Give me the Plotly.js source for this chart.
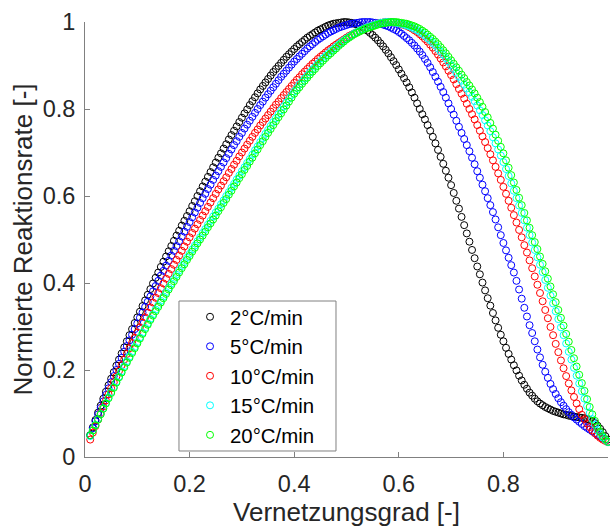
<!DOCTYPE html>
<html><head><meta charset="utf-8">
<script src="https://cdn.plot.ly/plotly-3.0.1.min.js"></script>
<style>html,body{margin:0;padding:0;background:#fff}#chart{width:610px;height:529px}</style>
</head><body><div id="chart"></div>
<script>
// Vernetzungsgrad (sampling of the conversion axis, shared by all series)
const conversion = [
0.010,0.015,0.020,0.025,0.030,0.035,0.040,0.045,0.050,0.055,
0.060,0.065,0.070,0.075,0.080,0.085,0.090,0.095,0.100,0.105,
0.110,0.115,0.120,0.125,0.130,0.135,0.140,0.145,0.150,0.155,
0.160,0.165,0.170,0.175,0.180,0.185,0.190,0.195,0.200,0.205,
0.210,0.215,0.220,0.225,0.230,0.235,0.240,0.245,0.250,0.255,
0.260,0.265,0.270,0.275,0.280,0.285,0.290,0.295,0.300,0.305,
0.310,0.315,0.320,0.325,0.330,0.335,0.340,0.345,0.350,0.355,
0.360,0.365,0.370,0.375,0.380,0.385,0.390,0.395,0.400,0.405,
0.410,0.415,0.420,0.425,0.430,0.435,0.440,0.445,0.450,0.455,
0.460,0.465,0.470,0.475,0.480,0.485,0.490,0.495,0.500,0.505,
0.510,0.515,0.520,0.525,0.530,0.535,0.540,0.545,0.550,0.555,
0.560,0.565,0.570,0.575,0.580,0.585,0.590,0.595,0.600,0.605,
0.610,0.615,0.620,0.625,0.630,0.635,0.640,0.645,0.650,0.655,
0.660,0.665,0.670,0.675,0.680,0.685,0.690,0.695,0.700,0.705,
0.710,0.715,0.720,0.725,0.730,0.735,0.740,0.745,0.750,0.755,
0.760,0.765,0.770,0.775,0.780,0.785,0.790,0.795,0.800,0.805,
0.810,0.815,0.820,0.825,0.830,0.835,0.840,0.845,0.850,0.855,
0.860,0.865,0.870,0.875,0.880,0.885,0.890,0.895,0.900,0.905,
0.910,0.915,0.920,0.925,0.930,0.935,0.940,0.945,0.950,0.955,
0.960,0.965,0.970,0.975,0.980,0.985,0.990,0.995,1.000];

// Normierte Reaktionsrate, 2 °C/min
const rate2 = [
0.05,0.068,0.085,0.102,0.118,0.134,0.15,0.165,0.18,0.195,
0.21,0.224,0.238,0.252,0.266,0.28,0.294,0.308,0.321,0.334,
0.347,0.36,0.373,0.386,0.399,0.412,0.424,0.437,0.449,0.461,
0.473,0.485,0.497,0.509,0.52,0.532,0.543,0.554,0.565,0.577,
0.588,0.6,0.611,0.622,0.633,0.644,0.655,0.666,0.677,0.688,
0.698,0.709,0.719,0.73,0.74,0.75,0.76,0.77,0.78,0.79,
0.799,0.809,0.818,0.827,0.836,0.845,0.853,0.861,0.869,0.877,
0.885,0.892,0.899,0.906,0.913,0.92,0.926,0.932,0.938,0.944,
0.949,0.954,0.959,0.964,0.968,0.972,0.976,0.98,0.983,0.986,
0.989,0.992,0.994,0.996,0.997,0.998,0.999,1.0,1.0,0.999,
0.998,0.996,0.994,0.991,0.988,0.984,0.98,0.975,0.97,0.964,
0.958,0.951,0.944,0.936,0.928,0.919,0.91,0.901,0.891,0.881,
0.871,0.861,0.85,0.838,0.826,0.813,0.80,0.788,0.776,0.763,
0.75,0.736,0.721,0.706,0.69,0.674,0.658,0.642,0.625,0.607,
0.589,0.571,0.552,0.533,0.514,0.495,0.476,0.457,0.438,0.42,
0.401,0.383,0.365,0.348,0.331,0.314,0.297,0.281,0.266,0.251,
0.237,0.224,0.211,0.199,0.187,0.176,0.166,0.157,0.148,0.141,
0.134,0.128,0.123,0.119,0.115,0.112,0.109,0.106,0.104,0.102,
0.10,0.098,0.097,0.095,0.094,0.093,0.092,0.091,0.09,0.089,
0.087,0.085,0.082,0.078,0.072,0.065,0.057,0.048,0.04];

// 5 °C/min
const rate5 = [
0.05,0.066,0.082,0.098,0.113,0.128,0.143,0.158,0.172,0.186,
0.2,0.214,0.228,0.242,0.255,0.268,0.281,0.294,0.307,0.32,
0.332,0.345,0.357,0.369,0.381,0.393,0.405,0.417,0.428,0.44,
0.451,0.463,0.474,0.485,0.496,0.507,0.518,0.529,0.54,0.551,
0.562,0.573,0.584,0.595,0.605,0.616,0.626,0.637,0.647,0.657,
0.667,0.677,0.687,0.697,0.707,0.717,0.726,0.736,0.745,0.755,
0.764,0.773,0.782,0.791,0.80,0.809,0.817,0.826,0.834,0.842,
0.85,0.858,0.866,0.874,0.881,0.888,0.895,0.902,0.909,0.915,
0.921,0.927,0.933,0.939,0.944,0.949,0.954,0.959,0.963,0.967,
0.971,0.975,0.978,0.981,0.984,0.987,0.989,0.991,0.993,0.995,
0.996,0.997,0.998,0.999,1.0,1.0,1.0,1.0,0.999,0.998,
0.997,0.996,0.994,0.992,0.99,0.987,0.984,0.981,0.977,0.973,
0.968,0.963,0.958,0.952,0.946,0.939,0.932,0.924,0.915,0.906,
0.896,0.885,0.874,0.863,0.851,0.839,0.826,0.813,0.80,0.787,
0.773,0.759,0.745,0.731,0.717,0.703,0.688,0.673,0.657,0.642,
0.626,0.611,0.595,0.579,0.563,0.546,0.528,0.51,0.492,0.475,
0.458,0.441,0.424,0.405,0.385,0.364,0.343,0.323,0.303,0.285,
0.266,0.247,0.229,0.212,0.196,0.182,0.168,0.156,0.145,0.135,
0.126,0.118,0.11,0.103,0.097,0.091,0.086,0.081,0.076,0.071,
0.067,0.063,0.059,0.055,0.051,0.047,0.043,0.039,0.035];

// 10 °C/min
const rate10 = [
0.04,0.056,0.071,0.086,0.101,0.116,0.13,0.144,0.158,0.172,
0.185,0.198,0.211,0.224,0.237,0.25,0.262,0.274,0.286,0.298,
0.309,0.321,0.332,0.344,0.355,0.366,0.377,0.388,0.399,0.41,
0.421,0.432,0.442,0.453,0.463,0.474,0.484,0.495,0.505,0.515,
0.525,0.535,0.545,0.555,0.565,0.575,0.585,0.595,0.605,0.615,
0.624,0.634,0.643,0.653,0.662,0.672,0.681,0.691,0.70,0.709,
0.718,0.727,0.736,0.745,0.753,0.762,0.77,0.778,0.786,0.794,
0.802,0.81,0.817,0.825,0.832,0.839,0.846,0.853,0.86,0.867,
0.873,0.88,0.886,0.892,0.898,0.904,0.909,0.915,0.92,0.925,
0.93,0.935,0.939,0.944,0.948,0.952,0.956,0.96,0.964,0.968,
0.971,0.974,0.977,0.98,0.983,0.986,0.988,0.99,0.992,0.994,
0.996,0.998,0.999,1.0,1.0,1.0,0.999,0.998,0.997,0.995,
0.993,0.991,0.988,0.985,0.981,0.977,0.972,0.967,0.961,0.955,
0.948,0.941,0.933,0.925,0.916,0.907,0.898,0.888,0.878,0.868,
0.857,0.846,0.835,0.824,0.812,0.80,0.788,0.776,0.763,0.75,
0.737,0.724,0.71,0.696,0.682,0.667,0.652,0.637,0.621,0.605,
0.589,0.573,0.556,0.539,0.522,0.505,0.487,0.47,0.452,0.434,
0.415,0.396,0.377,0.358,0.338,0.319,0.299,0.28,0.26,0.241,
0.222,0.204,0.186,0.169,0.153,0.138,0.123,0.11,0.097,0.087,
0.077,0.069,0.061,0.055,0.049,0.044,0.04,0.037,0.034];

// 15 °C/min
const rate15 = [
0.048,0.061,0.074,0.087,0.099,0.112,0.124,0.137,0.149,0.161,
0.173,0.185,0.197,0.209,0.22,0.231,0.242,0.253,0.264,0.275,
0.286,0.297,0.307,0.318,0.328,0.339,0.349,0.359,0.369,0.379,
0.389,0.399,0.409,0.419,0.429,0.439,0.448,0.458,0.467,0.477,
0.486,0.496,0.505,0.515,0.524,0.534,0.543,0.553,0.562,0.571,
0.581,0.59,0.60,0.609,0.619,0.628,0.638,0.647,0.657,0.666,
0.676,0.685,0.695,0.705,0.714,0.724,0.733,0.743,0.752,0.761,
0.77,0.779,0.788,0.797,0.806,0.815,0.824,0.832,0.84,0.848,
0.856,0.863,0.87,0.877,0.884,0.891,0.897,0.904,0.91,0.916,
0.922,0.927,0.933,0.938,0.943,0.948,0.953,0.958,0.962,0.966,
0.97,0.974,0.977,0.98,0.983,0.986,0.988,0.99,0.992,0.994,
0.996,0.998,0.999,1.0,1.0,1.0,0.999,0.998,0.997,0.996,
0.994,0.992,0.99,0.987,0.984,0.981,0.977,0.973,0.968,0.963,
0.958,0.952,0.946,0.939,0.932,0.925,0.917,0.909,0.90,0.892,
0.883,0.874,0.865,0.856,0.847,0.838,0.828,0.818,0.808,0.797,
0.786,0.774,0.762,0.749,0.735,0.721,0.707,0.693,0.678,0.662,
0.646,0.629,0.612,0.595,0.578,0.561,0.544,0.527,0.51,0.493,
0.476,0.459,0.442,0.425,0.407,0.389,0.371,0.353,0.335,0.317,
0.298,0.28,0.261,0.242,0.224,0.205,0.187,0.169,0.151,0.134,
0.117,0.101,0.087,0.074,0.062,0.053,0.045,0.039,0.034];

// 20 °C/min
const rate20 = [
0.05,0.061,0.073,0.086,0.098,0.111,0.123,0.135,0.147,0.159,
0.171,0.183,0.194,0.206,0.217,0.228,0.239,0.25,0.261,0.272,
0.283,0.294,0.304,0.315,0.325,0.335,0.345,0.355,0.365,0.375,
0.385,0.395,0.404,0.414,0.424,0.434,0.443,0.453,0.462,0.472,
0.481,0.491,0.50,0.509,0.518,0.528,0.537,0.546,0.555,0.565,
0.574,0.584,0.593,0.603,0.612,0.622,0.631,0.641,0.65,0.66,
0.669,0.679,0.688,0.698,0.707,0.717,0.726,0.736,0.745,0.754,
0.763,0.772,0.781,0.79,0.799,0.808,0.817,0.826,0.835,0.843,
0.85,0.858,0.865,0.872,0.879,0.886,0.892,0.899,0.905,0.911,
0.917,0.923,0.928,0.934,0.939,0.945,0.95,0.955,0.96,0.964,
0.968,0.972,0.975,0.978,0.981,0.984,0.986,0.988,0.99,0.992,
0.994,0.996,0.997,0.998,0.999,1.0,1.0,1.0,0.999,0.998,
0.997,0.996,0.994,0.992,0.99,0.987,0.984,0.98,0.976,0.971,
0.966,0.961,0.955,0.949,0.942,0.935,0.928,0.92,0.912,0.904,
0.896,0.888,0.879,0.871,0.862,0.854,0.845,0.836,0.826,0.816,
0.805,0.793,0.781,0.768,0.755,0.741,0.727,0.713,0.698,0.682,
0.665,0.648,0.631,0.614,0.596,0.579,0.561,0.544,0.527,0.51,
0.494,0.478,0.461,0.444,0.427,0.41,0.392,0.374,0.356,0.338,
0.32,0.302,0.283,0.265,0.246,0.227,0.208,0.189,0.17,0.152,
0.133,0.115,0.098,0.083,0.069,0.058,0.048,0.041,0.035];

const seriesNames = ['2°C/min', '5°C/min', '10°C/min', '15°C/min', '20°C/min'];
const seriesRates = [rate2, rate5, rate10, rate15, rate20];
const seriesColors = ['#000000', '#0000ff', '#ff0000', '#00ffff', '#00ff00'];
const tickValues = [0, 0.2, 0.4, 0.6, 0.8, 1];

const traces = seriesRates.map((r, i) => ({
  x: conversion, y: r, type: 'scatter', mode: 'markers',
  name: seriesNames[i], cliponaxis: false,
  marker: {symbol: 'circle-open', size: 7, color: seriesColors[i], line: {width: 1}}
}));

const axisCommon = {
  range: [0, 1], tickmode: 'array', tickvals: tickValues,
  showgrid: false, zeroline: false, showline: true, mirror: false,
  linecolor: '#808080', linewidth: 1,
  ticks: 'inside', ticklen: 5, tickcolor: '#808080', tickwidth: 1,
  tickfont: {size: 23.5, color: '#262626'}
};

const layout = {
  width: 610, height: 529,
  margin: {l: 85, r: 2, t: 22, b: 72},
  paper_bgcolor: '#ffffff', plot_bgcolor: '#ffffff',
  font: {family: '"Liberation Sans", Arial, sans-serif', color: '#262626'},
  showlegend: true,
  xaxis: Object.assign({}, axisCommon, {
    ticklabelstandoff: 6,
    title: {text: 'Vernetzungsgrad [-]', font: {size: 26, color: '#262626'}, standoff: 6}
  }),
  yaxis: Object.assign({}, axisCommon, {
    ticklabelstandoff: 4,
    title: {text: 'Normierte Reaktionsrate [-]', font: {size: 26, color: '#262626'}, standoff: 2}
  }),
  shapes: [{
    type: 'rect', xref: 'paper', yref: 'paper', layer: 'above',
    x0: 0.1797, x1: 0.4799, y0: 0.0138, y1: 0.3586,
    line: {color: '#808080', width: 1}, fillcolor: '#ffffff'
  }],
  legend: {
    x: 0.2008, y: 0.3678, xanchor: 'left', yanchor: 'top',
    bgcolor: 'rgba(0,0,0,0)', borderwidth: 0,
    font: {size: 20.4, color: '#000000'}
  }
};

Plotly.newPlot('chart', traces, layout, {staticPlot: true, displayModeBar: false});
</script>
</body></html>
